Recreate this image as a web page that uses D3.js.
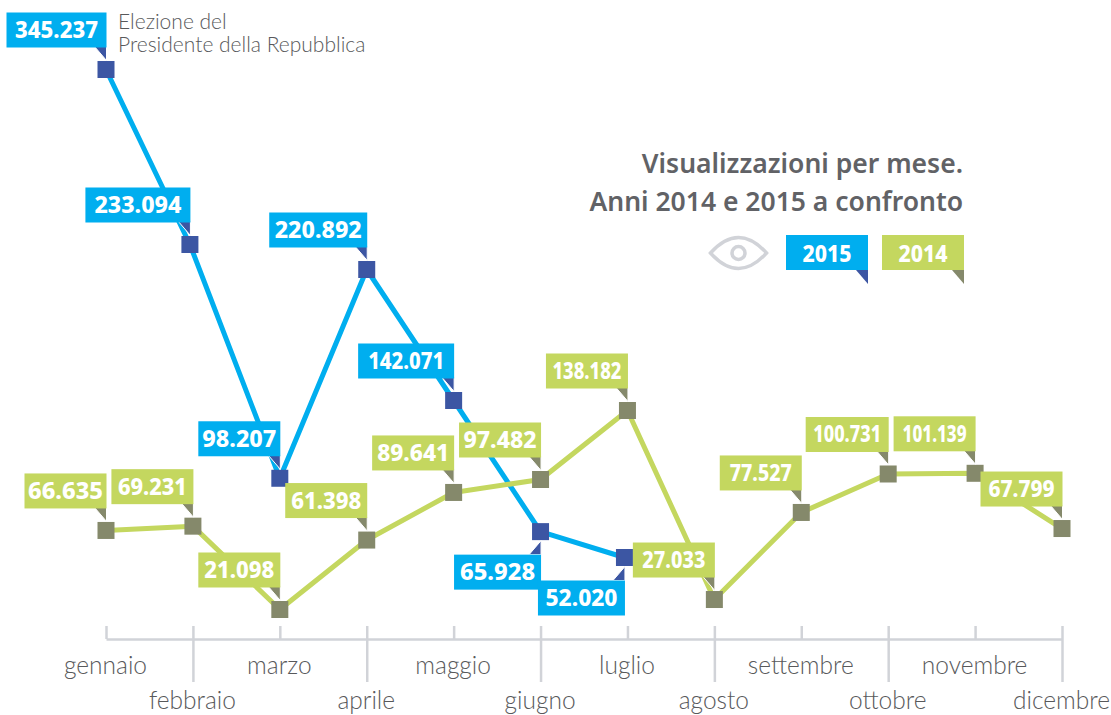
<!DOCTYPE html>
<html>
<head>
<meta charset="utf-8">
<script src="https://cdn.jsdelivr.net/npm/d3@7"></script>
<style>
  html, body { margin: 0; padding: 0; background: #fff; }
  text { font-family: "Noto Sans", sans-serif; }
  .num { font-weight: 800; fill: #fff; font-size: 23.5px; text-anchor: middle; }
  .month { font-family: Lato, sans-serif; font-weight: 300; font-size: 24.5px; fill: #58595b; }
  .note { font-family: Lato, sans-serif; font-weight: 300; font-size: 21px; fill: #58595b; }
  .title { font-weight: 600; font-size: 26.5px; fill: #616266; text-anchor: end; }
</style>
</head>
<body>
<div id="chart"></div>
<script>
var months = ["gennaio", "febbraio", "marzo", "aprile", "maggio", "giugno", "luglio",
              "agosto", "settembre", "ottobre", "novembre", "dicembre"];
var values2015 = [345237, 233094, 98207, 220892, 142071, 65928, 52020];
var values2014 = [66635, 69231, 21098, 61398, 89641, 97482, 138182, 27033, 77527, 100731, 101139, 67799];

var width = 1111, height = 715;
var blue = "#00aeef", darkBlue = "#3c56a3", green = "#c4d75f", olive = "#85896b";
var axisGrey = "#d1d3d8";

// layout of the labels: box width, text width, they differ label by label
var boxW2015 = [100, 105, 82, 98, 96, 87, 87];
var textW2015 = [83, 87, 74, 87, 76, 75, 72];
var boxW2014 = [82, 82, 82, 82, 82, 82, 82, 82, 82, 83, 82, 82];
var textW2014 = [75, 69, 70, 70, 72, 73, 69, 63, 62, 68, 64, 66];
var boxH = 35;
// two of the 2015 points sit a bit left of their tick in the original
var nudge2015 = [0, -3, 0, 0, 0, 0, -3];
var nudge2014 = [];

// the original is not quite to scale, so the axis is bent to follow it
var x = d3.scalePoint().domain(months).range([106, 1062]);
var y = d3.scaleLinear()
    .domain([21098, 52020, 66000, 97482, 138182, 142071, 220892, 233094, 345237])
    .range([609.5, 557.5, 531.5, 479.5, 410.5, 400.5, 269.5, 244.5, 69.5]);

var svg = d3.select("#chart").append("svg")
    .attr("width", width)
    .attr("height", height)
    .style("display", "block");

// axis
var axis = svg.append("g")
    .attr("transform", "translate(0,639)")
    .call(d3.axisBottom(x).tickSizeOuter(0).tickSize(0).tickPadding(0));
axis.attr("font-size", null).attr("font-family", null);
axis.select(".domain").attr("stroke", axisGrey).attr("stroke-width", 2.5);
axis.selectAll(".tick line")
    .attr("stroke", axisGrey)
    .attr("stroke-width", 2.5)
    .attr("y1", -13)
    .attr("y2", function(d, i) { return i % 2 ? 43 : 0; });
axis.selectAll(".tick text")
    .attr("class", "month")
    .attr("x", -1)
    .attr("y", function(d, i) { return i % 2 ? 70 : 35; })
    .attr("dy", 0);

function drawSeries(values, color, markerColor, boxW, textW, nudge, below) {
  var data = values.map(function(v, i) {
    return {month: months[i], value: v, i: i, px: x(months[i]) + (nudge[i] || 0)};
  });

  var line = d3.line()
      .x(function(d) { return d.px; })
      .y(function(d) { return y(d.value); });

  svg.append("path")
    .datum(data)
    .attr("fill", "none")
    .attr("stroke", color)
    .attr("stroke-width", 5)
    .attr("stroke-linejoin", "round")
    .attr("d", line);

  svg.append("g").selectAll("rect")
    .data(data)
    .enter().append("rect")
      .attr("x", function(d) { return d.px - 8.5; })
      .attr("y", function(d) { return y(d.value) - 8.5; })
      .attr("width", 17)
      .attr("height", 17)
      .attr("fill", markerColor);

  var labels = svg.append("g").selectAll("g")
    .data(data)
    .enter().append("g")
      .attr("transform", function(d) {
        return "translate(" + (d.px + 8.5) + "," + y(d.value) + ")";
      });

  // little flag under the box, points to the marker
  labels.append("path")
    .attr("fill", markerColor)
    .attr("stroke", "#fff")
    .attr("stroke-width", 1)
    .attr("d", function(d) {
      var up = below.indexOf(d.i) < 0 ? -1 : 1;
      return "M-8," + (up * 9) + "L-8," + (up * 23) + "L-20," + (up * 23) + "Z";
    });

  labels.append("rect")
    .attr("x", function(d) { return -8 - boxW[d.i]; })
    .attr("y", function(d) { return below.indexOf(d.i) < 0 ? -22 - boxH : 23; })
    .attr("width", function(d) { return boxW[d.i]; })
    .attr("height", boxH)
    .attr("fill", color);

  labels.append("text")
    .attr("class", "num")
    .attr("x", function(d) { return -8 - boxW[d.i] / 2; })
    .attr("y", function(d) { return below.indexOf(d.i) < 0 ? -22 - 9.5 : 23 + boxH - 9.5; })
    .attr("textLength", function(d) { return textW[d.i]; })
    .attr("lengthAdjust", "spacingAndGlyphs")
    .text(function(d) { return d3.format(",")(d.value).replace(",", "."); });
}

drawSeries(values2015, blue, darkBlue, boxW2015, textW2015, nudge2015, [5, 6]);
drawSeries(values2014, green, olive, boxW2014, textW2014, nudge2014, []);

// note on the first point
svg.append("text").attr("class", "note").attr("x", 118).attr("y", 29).text("Elezione del");
svg.append("text").attr("class", "note").attr("x", 118).attr("y", 52).text("Presidente della Repubblica");

// title
svg.append("text").attr("class", "title").attr("x", 963).attr("y", 173).text("Visualizzazioni per mese.");
svg.append("text").attr("class", "title").attr("x", 963).attr("y", 211).text("Anni 2014 e 2015 a confronto");

// eye icon
var eye = svg.append("g").attr("transform", "translate(738.5,253)")
    .attr("fill", "none").attr("stroke", axisGrey).attr("stroke-width", 3.5);
eye.append("path").attr("d", "M-28,0Q0,-31 28,0Q0,31 -28,0Z");
eye.append("circle").attr("r", 6.5);

// legend
var legend = svg.append("g").selectAll("g")
    .data([["2015", blue, darkBlue, 786], ["2014", green, olive, 882]])
    .enter().append("g")
      .attr("transform", function(d) { return "translate(" + d[3] + ",235)"; });
legend.append("rect").attr("width", 82).attr("height", boxH).attr("fill", function(d) { return d[1]; });
legend.append("path").attr("d", "M70,35L82,35L82,49Z").attr("fill", function(d) { return d[2]; });
legend.append("text")
    .attr("class", "num")
    .attr("x", 41).attr("y", 26.5)
    .attr("textLength", 49)
    .attr("lengthAdjust", "spacingAndGlyphs")
    .text(function(d) { return d[0]; });
</script>
</body>
</html>
